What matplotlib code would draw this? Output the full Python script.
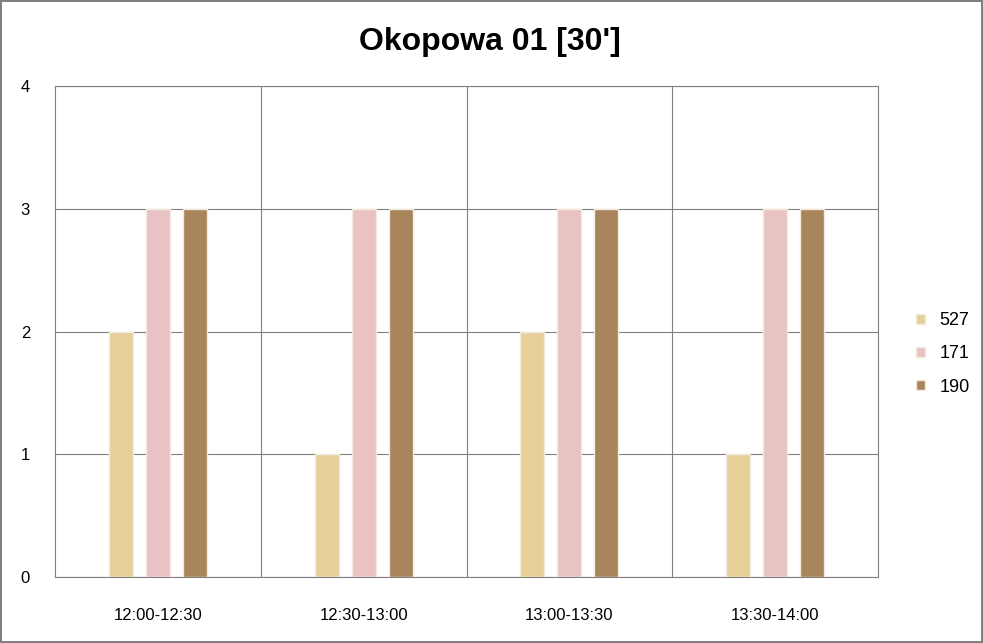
import matplotlib
matplotlib.use("Agg")
import matplotlib.pyplot as plt
import numpy as np

categories = ["12:00-12:30", "12:30-13:00", "13:00-13:30", "13:30-14:00"]
series_names = ["527", "171", "190"]
s527 = [2, 1, 2, 1]
s171 = [3, 3, 3, 3]
s190 = [3, 3, 3, 3]
colors = ["#E6D09A", "#E9C3C3", "#A9855C"]

fig = plt.figure(figsize=(9.83, 6.43), dpi=100)
fig.patch.set_edgecolor("#808080")
fig.patch.set_linewidth(1.5)
ax = fig.add_axes([55/983, 1-577/643, (878-55)/983, (577-86)/643])
x = np.arange(len(categories))
w = 0.117
off = 0.18
for i, (vals, c, n) in enumerate(zip([s527, s171, s190], colors, series_names)):
    ax.bar(x + (i-1)*off, vals, width=w, color=c, edgecolor="#F3EBDD", linewidth=1, label=n, zorder=3)
ax.set_xlim(-0.5, len(categories)-0.5)
ax.set_ylim(0, 4)
ax.set_yticks([0, 1, 2, 3, 4])
ax.set_xticks(x)
ax.set_xticklabels(categories, fontsize=12, fontfamily="Liberation Sans")
for lab in ax.get_yticklabels():
    lab.set_fontsize(12); lab.set_fontfamily("Liberation Sans")
ax.grid(axis="y", color="#808080", linewidth=0.8, zorder=0)
for b in np.arange(0.5, len(categories)-0.5, 1):
    ax.axvline(b, color="#808080", linewidth=0.8, zorder=0)
for s in ax.spines.values():
    s.set_color("#808080")
ax.tick_params(axis="x", length=0, pad=22)
ax.tick_params(axis="y", length=0, pad=18)
fig.text(490/983, 1-42/643, "Okopowa 01 [30']", ha="center", va="center",
         fontsize=23, fontweight="bold", fontfamily="Liberation Sans")
fig.legend(loc="center left", bbox_to_anchor=(900/983, 1-354/643), frameon=False,
           prop={"family": "Liberation Sans", "size": 13}, handlelength=0.5, handleheight=0.5,
           labelspacing=0.9, handletextpad=0.8)
fig.savefig("out.png", dpi=100)
